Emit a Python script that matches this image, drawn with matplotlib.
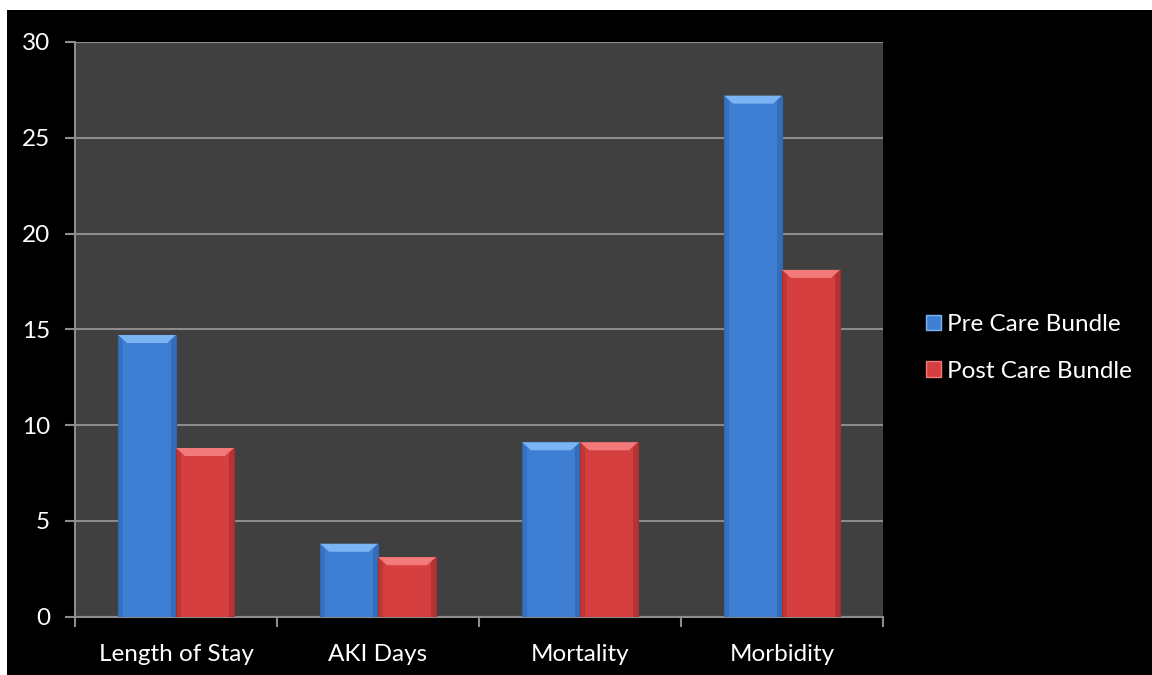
import matplotlib
matplotlib.use("Agg")
import matplotlib.pyplot as plt
from matplotlib.patches import Polygon, Rectangle, Patch
import numpy as np

categories = ["Length of Stay", "AKI Days", "Mortality", "Morbidity"]
pre_bundle = [14.7, 3.8, 9.1, 27.2]
post_bundle = [8.8, 3.1, 9.1, 18.1]
series_names = ["Pre Care Bundle", "Post Care Bundle"]

plt.rcParams['font.family'] = ['Lato', 'DejaVu Sans']

blue = "#3f7fd3"
blue_top = "#7bb4f2"
blue_side = "#2f66b0"
red = "#d63f3f"
red_top = "#f27a7a"
red_side = "#a82e2e"

fig = plt.figure(figsize=(11.52, 6.75), dpi=100, facecolor="white")
# black slide background
fig.patches.append(Rectangle((7 / 1152, 0), 1 - 7 / 1152, 1 - 10 / 675,
                             transform=fig.transFigure, facecolor="black",
                             edgecolor="none", zorder=-10))

ax = fig.add_axes([75 / 1152, (675 - 616.5) / 675, 808 / 1152, 574.5 / 675])
ax.set_facecolor("#404040")

x = np.arange(len(categories))
w = 0.287
ax.set_xlim(-0.5, len(categories) - 0.5)
ax.set_ylim(0, 30)


def bevel_bar(x0, h, col, top, side):
    ax.add_patch(Rectangle((x0, 0), w, h, facecolor=col, edgecolor=side,
                           linewidth=0.8, zorder=3))
    dx = 0.045
    dy = 0.42
    # side shading
    ax.add_patch(Rectangle((x0, 0), dx * 0.5, h, facecolor=side, edgecolor="none",
                           alpha=0.5, zorder=3))
    ax.add_patch(Rectangle((x0 + w - dx * 0.5, 0), dx * 0.5, h, facecolor=side,
                           edgecolor="none", alpha=0.7, zorder=3))
    # top bevel
    ax.add_patch(Polygon([(x0, h), (x0 + w, h), (x0 + w - dx, h - dy), (x0 + dx, h - dy)],
                         closed=True, facecolor=top, edgecolor="none", zorder=4))


for i in range(len(categories)):
    bevel_bar(x[i] - w, pre_bundle[i], blue, blue_top, blue_side)
    bevel_bar(x[i], post_bundle[i], red, red_top, red_side)

ax.set_yticks(np.arange(0, 31, 5))
ax.yaxis.grid(True, color="#8c8c8c", linewidth=1.5, zorder=1)
ax.set_axisbelow(True)
ax.set_xticks(np.arange(-0.5, len(categories), 1))
ax.set_xticklabels([])
ax.set_xticks(x, minor=True)
ax.set_xticklabels(categories, minor=True)
ax.tick_params(axis="x", which="minor", length=0, pad=20, labelsize=17.5, labelcolor="white")
ax.tick_params(axis="x", which="major", length=7, color="#8c8c8c", width=1.5)
ax.tick_params(axis="y", length=7, color="#8c8c8c", width=1.5, labelsize=17.5,
               labelcolor="white", pad=11)
for s in ["top", "right"]:
    ax.spines[s].set_visible(False)
for s in ["left", "bottom"]:
    ax.spines[s].set_color("#8c8c8c")
    ax.spines[s].set_linewidth(1.5)

handles = [Patch(facecolor=blue, edgecolor=blue_top), Patch(facecolor=red, edgecolor=red_top)]
leg = fig.legend(handles, series_names, loc="center left",
                 bbox_to_anchor=(926 / 1152, (675 - 348) / 675), frameon=False,
                 fontsize=17.5, labelcolor="white", handlelength=0.6, handleheight=0.6,
                 handletextpad=0.25, labelspacing=1.05, borderpad=0, borderaxespad=0)

fig.savefig("out.png", dpi=100, facecolor=fig.get_facecolor())
